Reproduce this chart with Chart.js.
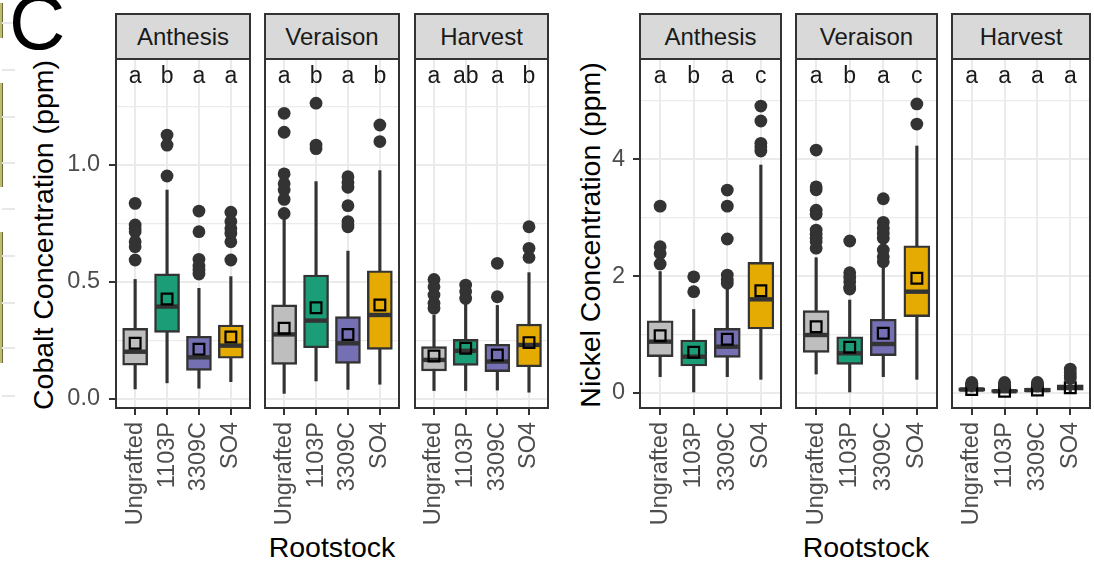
<!DOCTYPE html>
<html>
<head>
<meta charset="utf-8">
<script src="https://cdn.jsdelivr.net/npm/chart.js@4.4.1/dist/chart.umd.min.js"></script>
<style>
  html, body { margin: 0; padding: 0; background: #ffffff; }
  body { width: 1094px; height: 561px; position: relative; overflow: hidden;
         font-family: 'Liberation Sans', Arial, Helvetica, sans-serif; }
  .strip { position: absolute; box-sizing: border-box; background: #D9D9D9; border: 2px solid #333333;
           color: #1A1A1A; font-size: 24px; text-align: center; line-height: 43px; white-space: nowrap; }
  .ytitle { position: absolute; font-size: 28.5px; line-height: 1; white-space: nowrap; color: #000;
            transform: translate(-50%, -50%) rotate(-90deg); }
  .xtitle { position: absolute; font-size: 28.5px; line-height: 1; white-space: nowrap; color: #000;
            transform: translate(-50%, -50%); }
  .tag { position: absolute; left: 9px; top: -17px; font-size: 78px; line-height: 1; color: #000; }
  .edge { position: absolute; left: 0; width: 2px; background: #BDBD72; border-right: 1px solid #6b6b3a; }
  .edgegrid { position: absolute; left: 2px; width: 13px; height: 2px; background: #E8E8E8; }
</style>
</head>
<body>
<div class="edge" style="top:3px;height:35px"></div>
<div class="edge" style="top:83px;height:104px"></div>
<div class="edge" style="top:232px;height:131px"></div>
<div class="edgegrid" style="top:22px"></div>
<div class="edgegrid" style="top:69px"></div>
<div class="edgegrid" style="top:116px"></div>
<div class="edgegrid" style="top:162px"></div>
<div class="edgegrid" style="top:208px"></div>
<div class="edgegrid" style="top:255px"></div>
<div class="edgegrid" style="top:302px"></div>
<div class="edgegrid" style="top:347px"></div>
<div class="edgegrid" style="top:395px"></div>
<div class="tag">C</div>
<div class="ytitle" style="left:43px;top:235px">Cobalt Concentration (ppm)</div>
<div class="ytitle" style="left:590px;top:235px">Nickel Concentration (ppm)</div>
<div class="xtitle" style="left:332px;top:547px">Rootstock</div>
<div class="xtitle" style="left:866px;top:547px">Rootstock</div>

<script>
// ---- categories and styling keys ----
const rootstocks = ['Ungrafted', '1103P', '3309C', 'SO4'];
const boxFills = ['#BEBEBE', '#1B9E77', '#7570B3', '#E6AB02'];

// ---- Cobalt (ppm); box rows are [lower whisker, Q1, median, Q3, upper whisker] ----
const cobaltAnthesisBox = [
  [0.043, 0.145, 0.202, 0.302, 0.511],
  [0.069, 0.285, 0.395, 0.535, 0.893],
  [0.046, 0.122, 0.178, 0.268, 0.473],
  [0.074, 0.174, 0.228, 0.316, 0.523]
];
const cobaltAnthesisMean = [0.238, 0.427, 0.213, 0.265];
const cobaltAnthesisOutliers = [
  [0.836, 0.744, 0.728, 0.715, 0.672, 0.651, 0.594],
  [1.128, 1.085, 0.953],
  [0.803, 0.715, 0.597, 0.568, 0.551, 0.534],
  [0.798, 0.758, 0.729, 0.708, 0.672, 0.594]
];
const cobaltAnthesisLetters = ['a', 'b', 'a', 'a'];

const cobaltVeraisonBox = [
  [0.024, 0.148, 0.276, 0.402, 0.773],
  [0.077, 0.219, 0.335, 0.530, 0.929],
  [0.041, 0.152, 0.238, 0.352, 0.632],
  [0.063, 0.212, 0.359, 0.548, 0.976]
];
const cobaltVeraisonMean = [0.302, 0.390, 0.276, 0.402];
const cobaltVeraisonOutliers = [
  [1.221, 1.140, 0.962, 0.920, 0.893, 0.853, 0.793],
  [1.264, 1.085, 1.070],
  [0.950, 0.925, 0.905, 0.826, 0.758, 0.745, 0.736],
  [1.171, 1.100]
];
const cobaltVeraisonLetters = ['a', 'b', 'a', 'b'];

const cobaltHarvestBox = [
  [0.036, 0.120, 0.167, 0.224, 0.359],
  [0.036, 0.144, 0.206, 0.255, 0.409],
  [0.038, 0.117, 0.160, 0.234, 0.400],
  [0.029, 0.138, 0.231, 0.320, 0.540]
];
const cobaltHarvestMean = [0.184, 0.217, 0.188, 0.241];
const cobaltHarvestOutliers = [
  [0.511, 0.480, 0.444, 0.409, 0.388],
  [0.487, 0.459, 0.430],
  [0.580, 0.437],
  [0.736, 0.644, 0.605]
];
const cobaltHarvestLetters = ['a', 'ab', 'a', 'b'];

// ---- Nickel (ppm) ----
const nickelAnthesisBox = [
  [0.28, 0.622, 0.879, 1.238, 2.08],
  [0.00, 0.462, 0.622, 0.907, 1.43],
  [0.28, 0.611, 0.793, 1.107, 1.85],
  [0.234, 1.096, 1.604, 2.238, 3.904]
];
const nickelAnthesisMean = [0.981, 0.697, 0.919, 1.752];
const nickelAnthesisOutliers = [
  [3.20, 2.505, 2.39, 2.21],
  [1.99, 1.735],
  [3.476, 3.20, 2.637, 2.02, 1.935, 1.878],
  [4.914, 4.658, 4.275, 4.218, 4.144]
];
const nickelAnthesisLetters = ['a', 'b', 'a', 'c'];

const nickelVeraisonBox = [
  [0.325, 0.697, 0.993, 1.41, 2.317],
  [0.00, 0.491, 0.679, 0.964, 1.592],
  [0.28, 0.639, 0.839, 1.262, 2.163],
  [0.234, 1.307, 1.735, 2.522, 4.23]
];
const nickelVeraisonMean = [1.135, 0.782, 1.022, 1.964];
const nickelVeraisonOutliers = [
  [4.16, 3.53, 3.48, 3.13, 3.06, 2.79, 2.72, 2.65, 2.59, 2.48],
  [2.603, 2.06, 1.98, 1.906, 1.82, 1.78],
  [3.327, 2.923, 2.82, 2.735, 2.65, 2.449, 2.334, 2.248],
  [4.95, 4.606]
];
const nickelVeraisonLetters = ['a', 'b', 'a', 'c'];

const nickelHarvestBox = [
  [0.00, 0.03, 0.06, 0.09, 0.14],
  [0.00, 0.01, 0.03, 0.06, 0.10],
  [0.00, 0.02, 0.05, 0.08, 0.13],
  [0.00, 0.05, 0.10, 0.14, 0.20]
];
const nickelHarvestMean = [0.06, 0.03, 0.05, 0.09];
const nickelHarvestOutliers = [
  [0.16, 0.18],
  [0.13, 0.16, 0.18],
  [0.15, 0.18],
  [0.25, 0.30, 0.35, 0.41]
];
const nickelHarvestLetters = ['a', 'a', 'a', 'a'];

// ---- y axis breaks (grid) and their labels; blank label = minor line ----
const cobaltBreaks = [0, 0.25, 0.5, 0.75, 1.0, 1.25];
const cobaltTickLabels = ['0.0', '', '0.5', '', '1.0', ''];
const nickelBreaks = [0, 1, 2, 3, 4, 5];
const nickelTickLabels = ['0', '', '2', '', '4', ''];

// ---- layout ----
Chart.defaults.font.family = "'Liberation Sans', Arial, Helvetica, sans-serif";
const PANEL_TOP = 59, PANEL_BOTTOM = 408, PAD = 4, X_AXIS_H = 126;

const cobaltAxis = { min: -0.0385, max: 1.453, breaks: cobaltBreaks, labels: cobaltTickLabels, boxW: 25, labelPad: 9 };
const nickelAxis = { min: -0.257, max: 5.72, breaks: nickelBreaks, labels: nickelTickLabels, boxW: 26, labelPad: 8 };

const facets = [
  { stage: 'Anthesis', axis: cobaltAxis, left: 116, right: 250, axisW: 56, box: cobaltAnthesisBox, mean: cobaltAnthesisMean, out: cobaltAnthesisOutliers, letters: cobaltAnthesisLetters },
  { stage: 'Veraison', axis: cobaltAxis, left: 265, right: 399, axisW: 4, box: cobaltVeraisonBox, mean: cobaltVeraisonMean, out: cobaltVeraisonOutliers, letters: cobaltVeraisonLetters },
  { stage: 'Harvest',  axis: cobaltAxis, left: 415, right: 548, axisW: 4, box: cobaltHarvestBox, mean: cobaltHarvestMean, out: cobaltHarvestOutliers, letters: cobaltHarvestLetters },
  { stage: 'Anthesis', axis: nickelAxis, left: 640, right: 781, axisW: 30, box: nickelAnthesisBox, mean: nickelAnthesisMean, out: nickelAnthesisOutliers, letters: nickelAnthesisLetters },
  { stage: 'Veraison', axis: nickelAxis, left: 796, right: 937, axisW: 4, box: nickelVeraisonBox, mean: nickelVeraisonMean, out: nickelVeraisonOutliers, letters: nickelVeraisonLetters },
  { stage: 'Harvest',  axis: nickelAxis, left: 952, right: 1090, axisW: 4, box: nickelHarvestBox, mean: nickelHarvestMean, out: nickelHarvestOutliers, letters: nickelHarvestLetters }
];

// panel frame + significance letters, placed with the x scale
const facetFrame = {
  id: 'facetFrame',
  afterDraw(chart, args, opts) {
    const { ctx, chartArea: a } = chart;
    const x = chart.scales.x;
    ctx.save();
    ctx.fillStyle = '#1A1A1A';
    ctx.font = "23px 'Liberation Sans', Arial, sans-serif";
    ctx.textAlign = 'center';
    ctx.textBaseline = 'alphabetic';
    opts.letters.forEach((t, i) => ctx.fillText(t, x.getPixelForValue(i + 1), a.top + 24));
    ctx.strokeStyle = '#333333';
    ctx.lineWidth = 2;
    ctx.strokeRect(a.left, a.top, a.right - a.left, a.bottom - a.top);
    ctx.restore();
  }
};

function boxDatasets(f) {
  const w = f.axis.boxW;
  const pos = rootstocks.map((_, i) => i + 1);
  return [
    { type: 'bar', label: 'whisker', order: 5, grouped: false, barThickness: 2.5,
      backgroundColor: '#333333', borderWidth: 0,
      data: f.box.map((b, i) => ({ x: pos[i], y: [b[0], b[4]] })) },
    { type: 'bar', label: 'box', order: 4, grouped: false, barThickness: w,
      backgroundColor: boxFills, borderColor: '#333333', borderWidth: 2.4, borderSkipped: false,
      data: f.box.map((b, i) => ({ x: pos[i], y: [b[1], b[3]] })) },
    { type: 'line', label: 'median', order: 3, showLine: false,
      pointStyle: 'line', pointRadius: w / 2 - 1, pointBorderWidth: 4.4, pointBorderColor: '#333333',
      data: f.box.map((b, i) => ({ x: pos[i], y: b[2] })) },
    { type: 'line', label: 'mean', order: 2, showLine: false,
      pointStyle: 'rect', pointRadius: 7.6, pointBorderWidth: 2.2, pointBorderColor: '#000000',
      pointBackgroundColor: 'rgba(0,0,0,0)',
      data: f.mean.map((m, i) => ({ x: pos[i], y: m })) },
    { type: 'line', label: 'outliers', order: 1, showLine: false,
      pointStyle: 'circle', pointRadius: 6.4, pointBorderWidth: 0, pointBackgroundColor: '#333333',
      data: f.out.flatMap((vals, i) => vals.map(v => ({ x: pos[i], y: v }))) }
  ];
}

function buildFacet(f) {
  const ax = f.axis;
  const showY = f.axisW > PAD;
  const w = f.axisW + (f.right - f.left) + PAD;
  const h = (PANEL_BOTTOM - PANEL_TOP) + PAD + X_AXIS_H;

  const strip = document.createElement('div');
  strip.className = 'strip';
  strip.textContent = f.stage;
  strip.style.left = (f.left - 1) + 'px';
  strip.style.top = '13px';
  strip.style.width = (f.right - f.left + 2) + 'px';
  strip.style.height = '47px';
  document.body.appendChild(strip);

  const canvas = document.createElement('canvas');
  canvas.width = w;
  canvas.height = h;
  canvas.style.cssText = `position:absolute;left:${f.left - f.axisW}px;top:${PANEL_TOP - PAD}px;width:${w}px;height:${h}px`;
  document.body.appendChild(canvas);

  const labelOf = v => { const k = ax.breaks.indexOf(v); return k >= 0 ? ax.labels[k] : ''; };
  const isMajor = v => labelOf(v) !== '';

  new Chart(canvas, {
    type: 'bar',
    data: { datasets: boxDatasets(f) },
    plugins: [facetFrame],
    options: {
      responsive: false,
      animation: false,
      events: [],
      layout: { autoPadding: false, padding: { top: PAD, right: PAD, left: 0, bottom: 0 } },
      plugins: {
        legend: { display: false },
        tooltip: { enabled: false },
        facetFrame: { letters: f.letters }
      },
      scales: {
        x: {
          type: 'linear', min: 0.4, max: 4.6, offset: false,
          afterBuildTicks: s => { s.ticks = rootstocks.map((_, i) => ({ value: i + 1 })); },
          afterFit: s => { s.height = X_AXIS_H; s.paddingLeft = 0; s.paddingRight = 0; s.paddingTop = 0; s.paddingBottom = 0; },
          ticks: {
            autoSkip: false, minRotation: 90, maxRotation: 90, padding: 7,
            color: '#4D4D4D', font: { size: 23.5 },
            callback: v => rootstocks[Math.round(v) - 1]
          },
          grid: { offset: false, color: '#EBEBEB', lineWidth: 2, tickLength: 7, tickColor: '#333333', tickWidth: 2 },
          border: { display: false }
        },
        y: {
          type: 'linear', min: ax.min, max: ax.max,
          afterBuildTicks: s => { s.ticks = ax.breaks.map(v => ({ value: v })); },
          afterFit: s => { s.width = f.axisW; s.paddingTop = 0; s.paddingBottom = 0; s.paddingLeft = 0; s.paddingRight = 0; },
          ticks: {
            display: showY, autoSkip: false, padding: ax.labelPad,
            color: '#4D4D4D', font: { size: 23.5 },
            callback: v => labelOf(v)
          },
          grid: {
            color: '#EBEBEB',
            lineWidth: c => (c.tick && isMajor(c.tick.value)) ? 2 : 1.3,
            drawTicks: showY, tickLength: 7, tickWidth: 2,
            tickColor: c => (c.tick && isMajor(c.tick.value)) ? '#333333' : 'rgba(0,0,0,0)'
          },
          border: { display: false }
        }
      }
    }
  });
}

facets.forEach(buildFacet);
</script>
</body>
</html>
